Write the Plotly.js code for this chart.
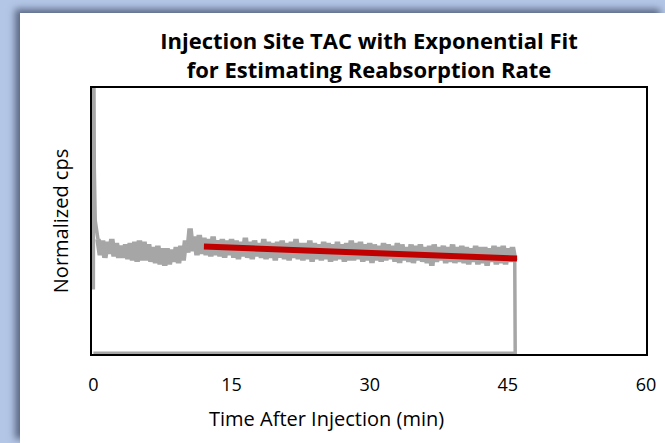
<!DOCTYPE html>
<html>
<head>
<meta charset="utf-8">
<script src="https://cdn.plot.ly/plotly-3.0.1.min.js"></script>
<style>
  html, body { margin: 0; padding: 0; width: 665px; height: 443px; overflow: hidden; background: #b4c6e6; }
  #frame { position: absolute; left: 20px; top: 13px; width: 645px; height: 430px; background: #ffffff;
           box-shadow: -5px -4px 7px rgba(60, 72, 100, 0.75); }
  #chart { position: absolute; left: 0; top: 0; width: 645px; height: 430px; }
</style>
</head>
<body>
<div id="frame"><div id="chart"></div></div>
<script>
// Initial injection spike (time in min, normalized cps)
const spikeX = [0, 0.03, 0.1, 0.2, 0.35, 0.5];
const spikeY = [0.24, 1.3, 0.7, 0.5, 0.45, 0.43];

// Noisy time-activity curve, sampled every 0.25 min from 0.5 min
const tacStart = 0.5;
const tacStep = 0.25;
const tacY = [
  0.43, 0.37, 0.425, 0.36, 0.42, 0.375, 0.43, 0.365, 0.415, 0.36, 0.405,
  0.36, 0.41, 0.355, 0.415, 0.35, 0.42, 0.345, 0.425, 0.35,
  0.42, 0.35, 0.41, 0.345, 0.40, 0.34, 0.405, 0.335, 0.395, 0.33,
  0.395, 0.335, 0.39, 0.345, 0.40, 0.34, 0.405, 0.35,
  0.425, 0.38, 0.47, 0.385, 0.44, 0.37, 0.445, 0.375,
  0.435, 0.37, 0.43, 0.365, 0.44, 0.37, 0.425, 0.365, 0.43,
  0.36, 0.425, 0.37, 0.43, 0.36, 0.425, 0.355, 0.42, 0.365, 0.435,
  0.36, 0.42, 0.355, 0.425, 0.365, 0.415, 0.36, 0.43, 0.355, 0.42,
  0.36, 0.415, 0.35, 0.42, 0.36, 0.425, 0.355, 0.415, 0.35, 0.42,
  0.36, 0.43, 0.355, 0.415, 0.35, 0.415, 0.355, 0.425, 0.345, 0.415,
  0.355, 0.41, 0.35, 0.42, 0.355, 0.415, 0.345, 0.41, 0.35, 0.42,
  0.355, 0.41, 0.345, 0.415, 0.35, 0.425, 0.35, 0.415, 0.355, 0.42,
  0.345, 0.41, 0.35, 0.415, 0.34, 0.41, 0.35, 0.405, 0.345, 0.415,
  0.35, 0.41, 0.355, 0.405, 0.345, 0.415, 0.34, 0.41, 0.35, 0.40,
  0.345, 0.41, 0.34, 0.405, 0.35, 0.41, 0.345, 0.40, 0.34, 0.405,
  0.33, 0.41, 0.345, 0.40, 0.35, 0.405, 0.34, 0.40, 0.345, 0.41,
  0.34, 0.40, 0.345, 0.405, 0.34, 0.40, 0.335, 0.395, 0.345, 0.405,
  0.335, 0.40, 0.34, 0.40, 0.33, 0.395, 0.345, 0.405, 0.335, 0.40,
  0.34, 0.405, 0.335, 0.395, 0.345, 0.40, 0.35
];

// End of acquisition: drop to zero and baseline back to start
const endX = [45.75, 45.8, 0];
const endY = [0.35, 0, 0];

// Exponential fit for reabsorption rate
const fitX = [12, 20, 28, 36, 46];
const fitY = [0.402, 0.391, 0.380, 0.3696, 0.357];

// Axis ticks
const xTicks = [0, 15, 30, 45, 60];

const gray = '#a6a6a6';
const FONT = '"Open Sans", sans-serif';
const traces = [
  { x: spikeX, y: spikeY, type: 'scatter', mode: 'lines', line: { color: gray, width: 3.5 }, hoverinfo: 'skip' },
  { x0: tacStart, dx: tacStep, y: tacY, type: 'scatter', mode: 'lines', line: { color: gray, width: 5.5 }, hoverinfo: 'skip' },
  { x: endX, y: endY, type: 'scatter', mode: 'lines', line: { color: gray, width: 3.5 }, hoverinfo: 'skip' },
  { x: fitX, y: fitY, type: 'scatter', mode: 'lines', line: { color: '#c00000', width: 6 }, hoverinfo: 'skip' }
];

const layout = {
  width: 645, height: 430,
  margin: { l: 72, r: 19, t: 75, b: 89 },
  paper_bgcolor: '#ffffff', plot_bgcolor: '#ffffff',
  showlegend: false,
  font: { family: FONT, color: '#000000' },
  title: {
    text: 'Injection Site TAC with Exponential Fit<br>for Estimating Reabsorption Rate',
    font: { family: FONT, size: 22, color: '#000000', weight: 'bold' },
    x: 0.5, xref: 'paper', xanchor: 'center',
    y: 1 - 36 / 430, yref: 'container', yanchor: 'top'
  },
  xaxis: {
    range: [-0.15, 60], tickvals: xTicks, ticktext: xTicks.map(String),
    showgrid: false, zeroline: false, ticks: '',
    showline: true, mirror: true, linecolor: '#000000', linewidth: 2, layer: 'below traces',
    tickfont: { family: FONT, size: 18, color: '#000000' },
    ticklabelstandoff: 13
  },
  yaxis: {
    range: [-0.003, 1], showticklabels: false, showgrid: false, zeroline: false, ticks: '',
    showline: true, mirror: true, linecolor: '#000000', linewidth: 2, layer: 'below traces',
    title: { text: 'Normalized cps', font: { family: FONT, size: 20, color: '#000000' }, standoff: 16 }
  },
  annotations: [{
    text: 'Time After Injection (min)', xref: 'paper', yref: 'paper',
    x: (326 - 92) / 553, y: -(418 - 354) / 266, xanchor: 'center', yanchor: 'middle',
    showarrow: false, font: { family: FONT, size: 20, color: '#000000' }
  }]
};

Plotly.newPlot('chart', traces, layout, { displayModeBar: false, staticPlot: true });
</script>
</body>
</html>
